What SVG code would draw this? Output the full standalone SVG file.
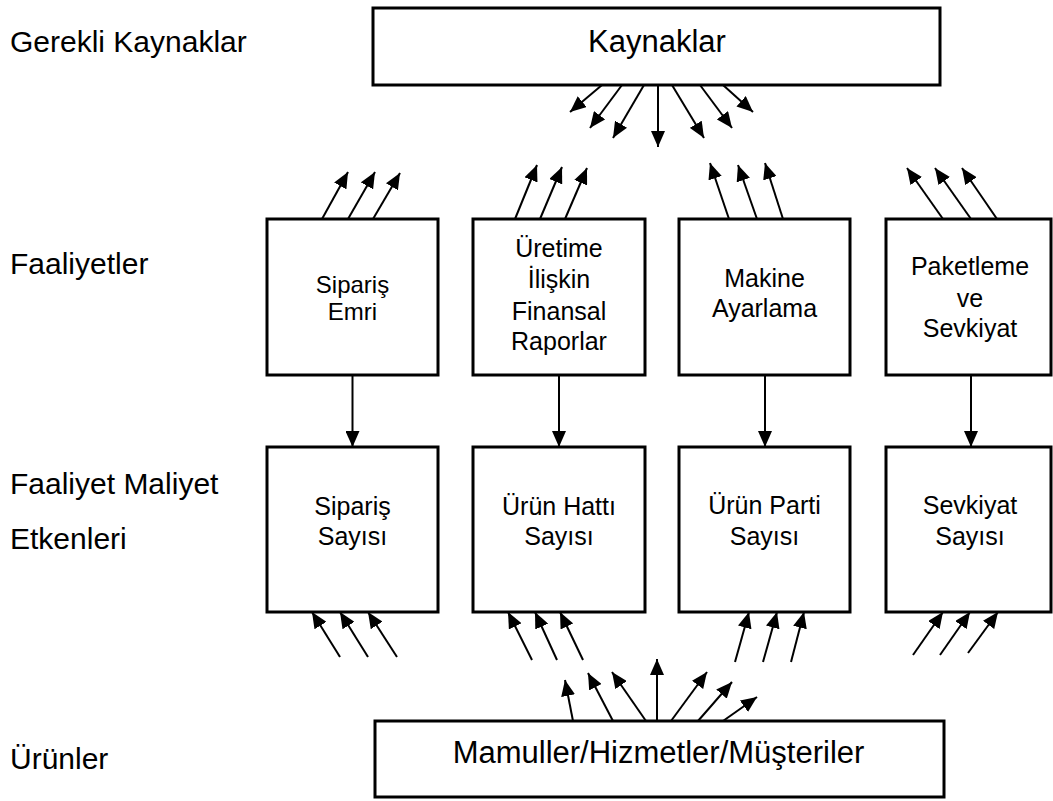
<svg xmlns="http://www.w3.org/2000/svg" width="1053" height="801" viewBox="0 0 1053 801">
  <style>
    .box { fill: #ffffff; stroke: #000000; stroke-width: 3; }
    .lbl { font-family: "Liberation Sans", Arial, sans-serif; fill: #000000; }
    .side { font-size: 30px; }
    .big { font-size: 31px; text-anchor: middle; }
    .in { font-size: 25px; text-anchor: middle; }
    .tight { font-size: 24px; }
    .arr { stroke: #000000; stroke-width: 2; fill: none; marker-end: url(#head); }
  </style>
  <defs>
    <marker id="head" markerUnits="userSpaceOnUse" markerWidth="16" markerHeight="14" refX="16" refY="7" orient="auto">
      <path d="M0,0 L16,7 L0,14 Z" fill="#000000"/>
    </marker>
  </defs>
  <rect width="1053" height="801" fill="#ffffff"/>

  <!-- level labels -->
  <g id="level-labels" class="lbl side">
    <text x="10" y="52">Gerekli Kaynaklar</text>
    <text x="10" y="274">Faaliyetler</text>
    <text x="10" y="494">Faaliyet Maliyet</text>
    <text x="10" y="549">Etkenleri</text>
    <text x="10" y="769">Ürünler</text>
  </g>

  <!-- resources -->
  <g id="kaynaklar">
    <rect class="box" x="373" y="8" width="567" height="77"/>
    <text class="lbl big" x="657" y="52">Kaynaklar</text>
  </g>

  <!-- activities -->
  <g id="siparis-emri">
    <rect class="box" x="267" y="219" width="171" height="156"/>
    <text class="lbl in tight" x="352.5" y="293">Sipariş</text>
    <text class="lbl in tight" x="352.5" y="320">Emri</text>
  </g>
  <g id="finansal-raporlar">
    <rect class="box" x="473" y="219" width="172" height="156"/>
    <text class="lbl in" x="559" y="257">Üretime</text>
    <text class="lbl in" x="559" y="288">İlişkin</text>
    <text class="lbl in" x="559" y="320">Finansal</text>
    <text class="lbl in" x="559" y="350">Raporlar</text>
  </g>
  <g id="makine-ayarlama">
    <rect class="box" x="679" y="219" width="171" height="156"/>
    <text class="lbl in" x="764.5" y="287">Makine</text>
    <text class="lbl in" x="764.5" y="317">Ayarlama</text>
  </g>
  <g id="paketleme-sevkiyat">
    <rect class="box" x="886" y="219" width="165" height="156"/>
    <text class="lbl in" x="970" y="275">Paketleme</text>
    <text class="lbl in" x="970" y="307">ve</text>
    <text class="lbl in" x="970" y="337">Sevkiyat</text>
  </g>

  <!-- cost drivers -->
  <g id="siparis-sayisi">
    <rect class="box" x="267" y="447" width="171" height="165"/>
    <text class="lbl in" x="352.5" y="515">Sipariş</text>
    <text class="lbl in" x="352.5" y="545">Sayısı</text>
  </g>
  <g id="urun-hatti-sayisi">
    <rect class="box" x="473" y="447" width="172" height="165"/>
    <text class="lbl in" x="559" y="515">Ürün Hattı</text>
    <text class="lbl in" x="559" y="545">Sayısı</text>
  </g>
  <g id="urun-parti-sayisi">
    <rect class="box" x="679" y="447" width="171" height="165"/>
    <text class="lbl in" x="764.5" y="514">Ürün Parti</text>
    <text class="lbl in" x="764.5" y="545">Sayısı</text>
  </g>
  <g id="sevkiyat-sayisi">
    <rect class="box" x="886" y="447" width="165" height="165"/>
    <text class="lbl in" x="970" y="514">Sevkiyat</text>
    <text class="lbl in" x="970" y="545">Sayısı</text>
  </g>

  <!-- products -->
  <g id="mamuller">
    <rect class="box" x="375" y="721" width="569" height="76"/>
    <text class="lbl big" x="658.5" y="763">Mamuller/Hizmetler/Müşteriler</text>
  </g>

  <!-- connectors -->
  <g id="connectors">
    <!-- resources fan out -->
    <line class="arr" x1="602" y1="85" x2="570" y2="112"/>
    <line class="arr" x1="622" y1="85" x2="590" y2="128"/>
    <line class="arr" x1="644" y1="85" x2="613" y2="138"/>
    <line class="arr" x1="658" y1="85" x2="658" y2="147"/>
    <line class="arr" x1="672" y1="85" x2="704" y2="138"/>
    <line class="arr" x1="700" y1="85" x2="732" y2="128"/>
    <line class="arr" x1="723" y1="85" x2="753" y2="112"/>

    <!-- activities draw on resources -->
    <line class="arr" x1="322" y1="219" x2="348" y2="172"/>
    <line class="arr" x1="348" y1="219" x2="375" y2="172"/>
    <line class="arr" x1="373" y1="219" x2="400" y2="173"/>

    <line class="arr" x1="515" y1="219" x2="537" y2="165"/>
    <line class="arr" x1="540" y1="219" x2="562" y2="167"/>
    <line class="arr" x1="565" y1="219" x2="587" y2="168"/>

    <line class="arr" x1="729" y1="219" x2="710" y2="163"/>
    <line class="arr" x1="757" y1="219" x2="738" y2="165"/>
    <line class="arr" x1="783" y1="219" x2="765" y2="163"/>

    <line class="arr" x1="943" y1="219" x2="907" y2="168"/>
    <line class="arr" x1="971" y1="219" x2="935" y2="168"/>
    <line class="arr" x1="997" y1="219" x2="962" y2="168"/>

    <!-- activity to driver -->
    <line class="arr" x1="352.5" y1="376" x2="352.5" y2="447"/>
    <line class="arr" x1="559" y1="376" x2="559" y2="447"/>
    <line class="arr" x1="765" y1="376" x2="765" y2="447"/>
    <line class="arr" x1="971" y1="376" x2="971" y2="447"/>

    <!-- products consume drivers -->
    <line class="arr" x1="340" y1="657" x2="312" y2="612"/>
    <line class="arr" x1="368" y1="657" x2="340" y2="612"/>
    <line class="arr" x1="397" y1="657" x2="368" y2="612"/>

    <line class="arr" x1="532" y1="660" x2="508" y2="612"/>
    <line class="arr" x1="557" y1="660" x2="535" y2="612"/>
    <line class="arr" x1="583" y1="660" x2="560" y2="612"/>

    <line class="arr" x1="735" y1="662" x2="749" y2="612"/>
    <line class="arr" x1="763" y1="662" x2="777" y2="612"/>
    <line class="arr" x1="791" y1="662" x2="804" y2="612"/>

    <line class="arr" x1="913" y1="655" x2="943" y2="612"/>
    <line class="arr" x1="940" y1="655" x2="970" y2="612"/>
    <line class="arr" x1="968" y1="653" x2="998" y2="612"/>

    <!-- products fan out -->
    <line class="arr" x1="573" y1="721" x2="565" y2="680"/>
    <line class="arr" x1="613" y1="721" x2="588" y2="673"/>
    <line class="arr" x1="646" y1="721" x2="612" y2="672"/>
    <line class="arr" x1="657" y1="721" x2="657" y2="659"/>
    <line class="arr" x1="671" y1="721" x2="707" y2="672"/>
    <line class="arr" x1="698" y1="721" x2="732" y2="682"/>
    <line class="arr" x1="723" y1="721" x2="757" y2="697"/>
  </g>
</svg>
